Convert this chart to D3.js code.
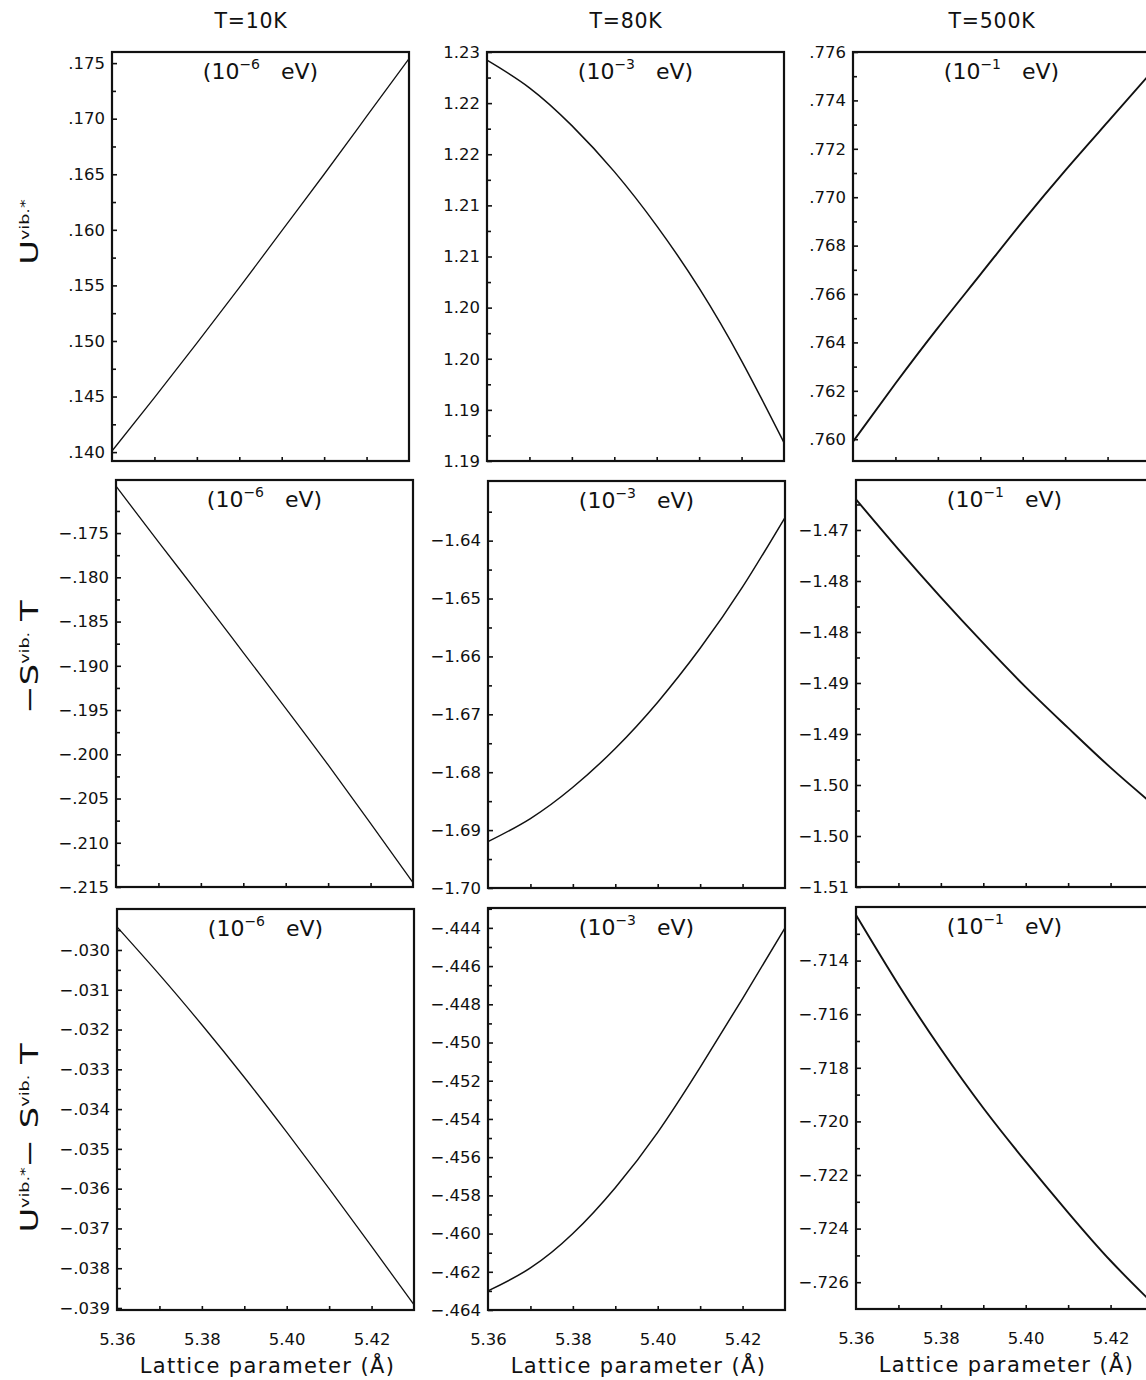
<!DOCTYPE html>
<html>
<head>
<meta charset="utf-8">
<script src="https://cdn.jsdelivr.net/npm/d3@7/dist/d3.min.js"></script>
<style>
  html, body { margin: 0; padding: 0; background: #fff; }
  svg { display: block; }
  text { font-family: "DejaVu Sans", "Liberation Sans", sans-serif; fill: #111; }
</style>
</head>
<body>
<svg id="chart"></svg>
<script>
// ---------------- DATA ----------------
const latticeParam = [5.36, 5.37, 5.38, 5.39, 5.40, 5.41, 5.42, 5.43];
const temperatureTitles = ["T=10K", "T=80K", "T=500K"];
const unitExponents = ["\u22126", "\u22123", "\u22121"];

// Row 1: U^vib.*
const uVib10K  = [0.1401, 0.1449, 0.1498, 0.1548, 0.1599, 0.1650, 0.1702, 0.1754];
const uVib80K  = [1.2292, 1.2265, 1.2228, 1.2183, 1.2130, 1.2069, 1.1998, 1.1918];
const uVib500K = [0.7599, 0.7623, 0.7646, 0.7668, 0.7690, 0.7711, 0.7731, 0.7751];
// Row 2: -S^vib. T
const negST10K  = [-0.1697, -0.1760, -0.1822, -0.1885, -0.1948, -0.2012, -0.2078, -0.2145];
const negST80K  = [-1.6920, -1.6880, -1.6826, -1.6759, -1.6679, -1.6586, -1.6480, -1.6360];
const negST500K = [-1.4720, -1.4769, -1.4816, -1.4861, -1.4904, -1.4944, -1.4983, -1.5019];
// Row 3: U^vib.* - S^vib. T
const free10K  = [-0.02942, -0.03062, -0.03188, -0.03320, -0.03458, -0.03600, -0.03745, -0.03892];
const free80K  = [-0.4630, -0.4618, -0.4600, -0.4576, -0.4547, -0.4513, -0.4477, -0.4440];
const free500K = [-0.7123, -0.7149, -0.7173, -0.7195, -0.7215, -0.7234, -0.7252, -0.7268];

// x axis ticks
const xMinorTicks = [5.37, 5.38, 5.39, 5.40, 5.41, 5.42];
const xLabelTicks = [5.36, 5.38, 5.40, 5.42];
const xTickLabels = ["5.36", "5.38", "5.40", "5.42"];
const xDomain = [5.36, 5.43];

// y axis domains
const yDomains = [
  [[0.1392, 0.1760], [1.19, 1.23], [0.7591, 0.7760]],
  [[-0.215, -0.1690], [-1.70, -1.6297], [-1.510, -1.4701]],
  [[-0.03905, -0.02897], [-0.464, -0.44296], [-0.7270, -0.7120]]
];
// y major tick values and labels (as printed)
const yMajorTicks = [
  [[0.140, 0.145, 0.150, 0.155, 0.160, 0.165, 0.170, 0.175],
   [1.190, 1.195, 1.200, 1.205, 1.210, 1.215, 1.220, 1.225, 1.230],
   [0.760, 0.762, 0.764, 0.766, 0.768, 0.770, 0.772, 0.774, 0.776]],
  [[-0.215, -0.210, -0.205, -0.200, -0.195, -0.190, -0.185, -0.180, -0.175],
   [-1.70, -1.69, -1.68, -1.67, -1.66, -1.65, -1.64],
   [-1.510, -1.505, -1.500, -1.495, -1.490, -1.485, -1.480, -1.475]],
  [[-0.039, -0.038, -0.037, -0.036, -0.035, -0.034, -0.033, -0.032, -0.031, -0.030],
   [-0.464, -0.462, -0.460, -0.458, -0.456, -0.454, -0.452, -0.450, -0.448, -0.446, -0.444],
   [-0.726, -0.724, -0.722, -0.720, -0.718, -0.716, -0.714]]
];
const yTickLabels = [
  [[".140", ".145", ".150", ".155", ".160", ".165", ".170", ".175"],
   ["1.19", "1.19", "1.20", "1.20", "1.21", "1.21", "1.22", "1.22", "1.23"],
   [".760", ".762", ".764", ".766", ".768", ".770", ".772", ".774", ".776"]],
  [["\u2212.215", "\u2212.210", "\u2212.205", "\u2212.200", "\u2212.195", "\u2212.190", "\u2212.185", "\u2212.180", "\u2212.175"],
   ["\u22121.70", "\u22121.69", "\u22121.68", "\u22121.67", "\u22121.66", "\u22121.65", "\u22121.64"],
   ["\u22121.51", "\u22121.50", "\u22121.50", "\u22121.49", "\u22121.49", "\u22121.48", "\u22121.48", "\u22121.47"]],
  [["\u2212.039", "\u2212.038", "\u2212.037", "\u2212.036", "\u2212.035", "\u2212.034", "\u2212.033", "\u2212.032", "\u2212.031", "\u2212.030"],
   ["\u2212.464", "\u2212.462", "\u2212.460", "\u2212.458", "\u2212.456", "\u2212.454", "\u2212.452", "\u2212.450", "\u2212.448", "\u2212.446", "\u2212.444"],
   ["\u2212.726", "\u2212.724", "\u2212.722", "\u2212.720", "\u2212.718", "\u2212.716", "\u2212.714"]]
];
const yMinorTicks = [
  [[0.1425, 0.1475, 0.1525, 0.1575, 0.1625, 0.1675, 0.1725],
   [1.1925, 1.1975, 1.2025, 1.2075, 1.2125, 1.2175, 1.2225, 1.2275],
   [0.761, 0.763, 0.765, 0.767, 0.769, 0.771, 0.773, 0.775]],
  [[-0.2125, -0.2075, -0.2025, -0.1975, -0.1925, -0.1875, -0.1825, -0.1775, -0.1725],
   [-1.695, -1.685, -1.675, -1.665, -1.655, -1.645, -1.635],
   [-1.5075, -1.5025, -1.4975, -1.4925, -1.4875, -1.4825, -1.4775, -1.4725]],
  [[-0.0385, -0.0375, -0.0365, -0.0355, -0.0345, -0.0335, -0.0325, -0.0315, -0.0305, -0.0295],
   [-0.463, -0.461, -0.459, -0.457, -0.455, -0.453, -0.451, -0.449, -0.447, -0.445, -0.443],
   [-0.725, -0.723, -0.721, -0.719, -0.717, -0.715, -0.713]]
];

const seriesGrid = [
  [uVib10K, uVib80K, uVib500K],
  [negST10K, negST80K, negST500K],
  [free10K, free80K, free500K]
];

// ---------------- LAYOUT ----------------
const W = 1146, H = 1380;
const panelLeft = [[112, 487, 853], [116, 488, 856], [117, 488, 856]];
const panelTop = [[52, 52, 52], [480, 481, 480], [909, 908, 907]];
const panelBottom = [[461, 461, 461], [887, 888, 887], [1310, 1310, 1309]];
const panelW = 297;
const lineWidths = [1.3, 1.5, 1.9];

const svg = d3.select("#chart").attr("width", W).attr("height", H)
  .attr("viewBox", `0 0 ${W} ${H}`);

svg.append("rect").attr("width", W).attr("height", H).attr("fill", "#fff");

for (let r = 0; r < 3; r++) {
  for (let c = 0; c < 3; c++) {
    const x0 = panelLeft[r][c], y0 = panelTop[r][c], y1 = panelBottom[r][c];
    const x = d3.scaleLinear().domain(xDomain).range([x0, x0 + panelW]);
    const y = d3.scaleLinear().domain(yDomains[r][c]).range([y1, y0]);
    const g = svg.append("g");

    // left axis: major ticks with labels
    g.append("g").attr("transform", `translate(${x0},0)`)
      .call(d3.axisLeft(y).tickValues(yMajorTicks[r][c])
        .tickFormat((d, i) => yTickLabels[r][c][i])
        .tickSize(-5).tickPadding(7));
    // left axis minor ticks
    g.append("g").attr("transform", `translate(${x0},0)`)
      .call(d3.axisLeft(y).tickValues(yMinorTicks[r][c]).tickFormat("").tickSize(-4));

    // bottom axis ticks
    g.append("g").attr("transform", `translate(0,${y1})`)
      .call(d3.axisBottom(x).tickValues(xMinorTicks).tickFormat("").tickSize(-4));

    if (r === 2) {
      g.append("g").attr("class", "xlab").attr("transform", `translate(0,${y1})`)
        .call(d3.axisBottom(x).tickValues(xLabelTicks)
          .tickFormat((d, i) => xTickLabels[i]).tickSize(0).tickPadding(23));
      svg.append("text")
        .attr("x", x0 + panelW / 2 + 2).attr("y", y1 + 63)
        .attr("text-anchor", "middle")
        .attr("font-size", 21).attr("letter-spacing", 1.4)
        .text("Lattice parameter (\u00C5)");
    }

    g.selectAll(".domain").remove();
    g.selectAll(".tick line").attr("stroke", "#111").attr("stroke-width", 1.6);
    g.selectAll(".tick text").attr("font-size", 16.5).attr("fill", "#111")
      .style("font-family", "'DejaVu Sans', sans-serif");

    // curve
    const line = d3.line()
      .x((d, i) => x(latticeParam[i]))
      .y(d => y(d))
      .curve(d3.curveNatural);
    g.append("path").datum(seriesGrid[r][c])
      .attr("d", line).attr("fill", "none")
      .attr("stroke", "#111").attr("stroke-width", lineWidths[c]);

    // frame
    g.append("rect").attr("x", x0).attr("y", y0)
      .attr("width", panelW).attr("height", y1 - y0)
      .attr("fill", "none").attr("stroke", "#111").attr("stroke-width", 2.2);

    // unit annotation
    const ann = svg.append("text")
      .attr("x", x0 + panelW / 2).attr("y", y0 + 27)
      .attr("text-anchor", "middle").attr("font-size", 22)
      .style("white-space", "pre");
    ann.append("tspan").text("(10");
    ann.append("tspan").attr("font-size", 14).attr("dy", -10).text(unitExponents[c]);
    ann.append("tspan").attr("dy", 10).text("   eV)");

    // column titles
    if (r === 0) {
      svg.append("text")
        .attr("x", x0 + 139).attr("y", 28)
        .attr("text-anchor", "middle").attr("font-size", 20.5)
        .attr("letter-spacing", 0.8)
        .text(temperatureTitles[c]);
    }
  }
}

// y-axis row labels (rotated)
const rowLabelParts = [
  [["U", false], ["vib.*", true]],
  [["\u2212", false], ["S", false], ["vib.", true], [" T", false]],
  [["U", false], ["vib.*", true], ["\u2212 ", false], ["S", false], ["vib.", true], [" T", false]]
];
const rowLabelCenters = [232, 657, 1138];
rowLabelParts.forEach((parts, r) => {
  const t = svg.append("text")
    .attr("transform", `translate(38,${rowLabelCenters[r]}) rotate(-90) scale(1.35,1)`)
    .attr("text-anchor", "middle").attr("font-size", 25)
    .style("white-space", "pre");
  let raised = false;
  parts.forEach(([s, sup]) => {
    const ts = t.append("tspan").text(s);
    if (sup && !raised) { ts.attr("font-size", 13).attr("dy", -9); raised = true; }
    else if (!sup && raised) { ts.attr("dy", 9); raised = false; }
    else if (sup) ts.attr("font-size", 13);
  });
});
</script>
</body>
</html>
